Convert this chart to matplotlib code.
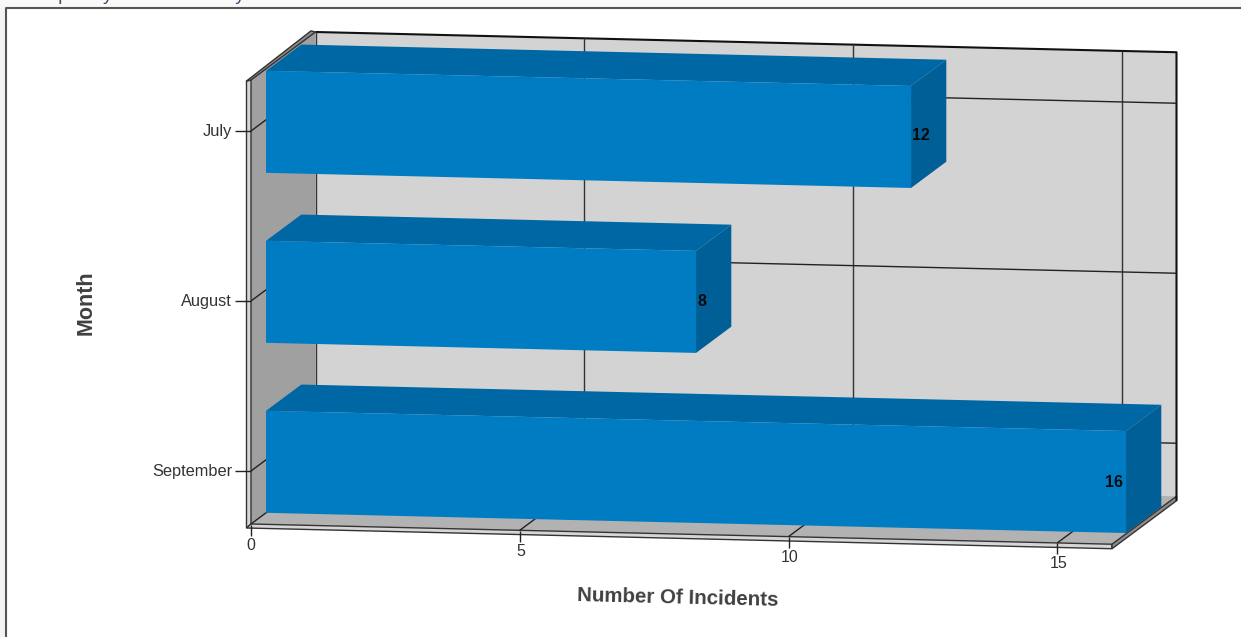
import matplotlib
matplotlib.use("Agg")
import matplotlib.pyplot as plt
from matplotlib.patches import Polygon, Rectangle

plt.rcParams['font.family'] = ['Liberation Sans', 'DejaVu Sans']

months = ["July", "August", "September"]
incidents = [12, 8, 16]
value_ticks = [0, 5, 10, 15]
x_title = "Number Of Incidents"
y_title = "Month"
page_title = "Frequency Of Incidents By Month"

W, H = 1241, 637
fig = plt.figure(figsize=(W / 100, H / 100), dpi=100, facecolor="white")
ax = fig.add_axes([0, 0, 1, 1])
ax.set_xlim(0, W)
ax.set_ylim(H, 0)
ax.axis("off")

UNIT = 53.75
SLOPE = 0.0235
DX, DY = 64.5, -48.0
X0 = 251.0
Y_BOTTOM = 524.0
Y_TOP = 80.0
Y_CAT = {0: 131.0, 1: 301.0, 2: 471.0}
X_MAX_PX = 1112.0
LABEL_SHIFT = {12: (10, -1), 8: (6, 0), 16: (-12, 0)}


def proj(px, py, depth=0.0):
    """Oblique projection: px along the value axis, py on the front plane, depth 0..1."""
    return (px + DX * depth, py + DY * depth + SLOPE * (px - X0))


def vx(v):
    return X0 + UNIT * v


def poly(pts, fc, ec="none", lw=0, z=1):
    ax.add_patch(Polygon(pts, closed=True, facecolor=fc, edgecolor=ec, linewidth=lw, zorder=z))


def line(pts, c="#222222", lw=1.0, z=2):
    ax.plot([p[0] for p in pts], [p[1] for p in pts], color=c, lw=lw, zorder=z,
            solid_capstyle="butt")


# page frame
ax.add_patch(Rectangle((0, 0), 6, H, fc="#f4f4f4", ec="none", zorder=0))
ax.add_patch(Rectangle((0, 0), W, 8, fc="#f8f8f8", ec="none", zorder=0))
line([(6, H), (6, 8), (W, 8)], c="#555555", lw=1.5, z=1)
ax.text(24, -0.5, page_title, fontsize=13.5, color="#3b4a6b", va="baseline", ha="left", clip_on=True)

# back wall
poly([proj(X0, Y_TOP, 1), proj(X_MAX_PX, Y_TOP, 1), proj(X_MAX_PX, Y_BOTTOM, 1), proj(X0, Y_BOTTOM, 1)],
     "#d3d3d3", z=1)
# left wall
poly([proj(X0, Y_TOP, 0), proj(X0, Y_TOP, 1), proj(X0, Y_BOTTOM, 1), proj(X0, Y_BOTTOM, 0)],
     "#a0a0a0", z=1)
# floor
poly([proj(X0, Y_BOTTOM, 0), proj(X0, Y_BOTTOM, 1), proj(X_MAX_PX, Y_BOTTOM, 1), proj(X_MAX_PX, Y_BOTTOM, 0)],
     "#b2b2b2", z=1)

# slabs
S = 4.5
poly([(X0 - S, Y_TOP + 1), proj(X0, Y_TOP, 0), proj(X0, Y_BOTTOM, 0), (X0 - S, Y_BOTTOM + 4)],
     "#d6d6d6", "#333333", 1.0, z=2)
poly([(X0 - S, Y_TOP + 1), proj(X0 - S, Y_TOP - 1, 1), proj(X0, Y_TOP, 1), proj(X0, Y_TOP, 0)],
     "#8c8c8c", "#333333", 1.0, z=2)
poly([(X0 - S, Y_BOTTOM + 4), proj(X0, Y_BOTTOM, 0), proj(X_MAX_PX, Y_BOTTOM, 0), proj(X_MAX_PX, Y_BOTTOM + 4.5, 0)],
     "#d6d6d6", "#333333", 1.0, z=2)
poly([proj(X_MAX_PX, Y_BOTTOM, 0), proj(X_MAX_PX, Y_BOTTOM, 1), proj(X_MAX_PX, Y_BOTTOM + 4.5, 1), proj(X_MAX_PX, Y_BOTTOM + 4.5, 0)],
     "#8c8c8c", "#333333", 1.0, z=2)

# back wall outline
line([proj(X0, Y_TOP, 1), proj(X_MAX_PX, Y_TOP, 1), proj(X_MAX_PX, Y_BOTTOM + 4.5, 1)], c="#111111", lw=1.5, z=2)
line([proj(X0, Y_TOP, 1), proj(X0, Y_BOTTOM, 1)], c="#333333", lw=1.0, z=2)

# value gridlines and ticks
for v in value_ticks:
    px = vx(v)
    if v:
        line([proj(px, Y_TOP, 1), proj(px, Y_BOTTOM, 1)], c="#333333", lw=1.0)
    line([proj(px, Y_BOTTOM, 0), proj(px, Y_BOTTOM, 0.35)], c="#222222", lw=1.0)
    bx, by = proj(px, Y_BOTTOM + 4.5, 0)
    line([(bx, by - 4), (bx, by + 7)], c="#222222", lw=1.0, z=3)
    ax.text(bx + (0 if v == 0 else 1), by + 16.5, str(v), fontsize=11.5, color="#333333", ha="center", va="center")

# category gridlines, ticks and labels
for i, m in enumerate(months):
    yc = Y_CAT[i]
    line([proj(X0, yc, 1), proj(X_MAX_PX, yc, 1)], c="#222222", lw=1.0)
    line([proj(X0, yc, 0), proj(X0, yc, 0.3)], c="#222222", lw=1.0)
    line([(X0 - 16, yc), (X0, yc)], c="#222222", lw=1.0, z=3)
    ax.text(X0 - 19, yc + 0.5, m, fontsize=11.8, color="#333333", ha="right", va="center")

# bars
FRONT, BACK = 0.233, 0.78
BAR_H = 102.0
BAR_TOP_OFFSET = -49.0
for i, (m, val) in enumerate(zip(months, incidents)):
    top = Y_CAT[i] + BAR_TOP_OFFSET
    bot = top + BAR_H
    p0, p1 = vx(0), vx(val)
    poly([proj(p0, top, FRONT), proj(p0, top, BACK), proj(p1, top, BACK), proj(p1, top, FRONT)], "#0067a5", z=4)
    poly([proj(p1, top, FRONT), proj(p1, top, BACK), proj(p1, bot, BACK), proj(p1, bot, FRONT)], "#005f96", z=4)
    poly([proj(p0, top, FRONT), proj(p1, top, FRONT), proj(p1, bot, FRONT), proj(p0, bot, FRONT)], "#007cc3", z=5)
    lx, ly = proj(p1, (top + bot) / 2, FRONT)
    sx, sy = LABEL_SHIFT[val]
    ax.text(lx + sx, ly + sy, str(val), fontsize=11.5, fontweight="bold", color="#0a0a0a",
            ha="center", va="center", zorder=6)

# axis titles
ax.text(678, 598, x_title, fontsize=14.8, fontweight="bold", color="#404040",
        ha="center", va="center", rotation=-1.4, rotation_mode="anchor")
ax.text(86, 303, y_title, fontsize=15.5, fontweight="bold", color="#404040",
        ha="center", va="center", rotation=90)

fig.savefig("out.png", dpi=100, facecolor="white")
